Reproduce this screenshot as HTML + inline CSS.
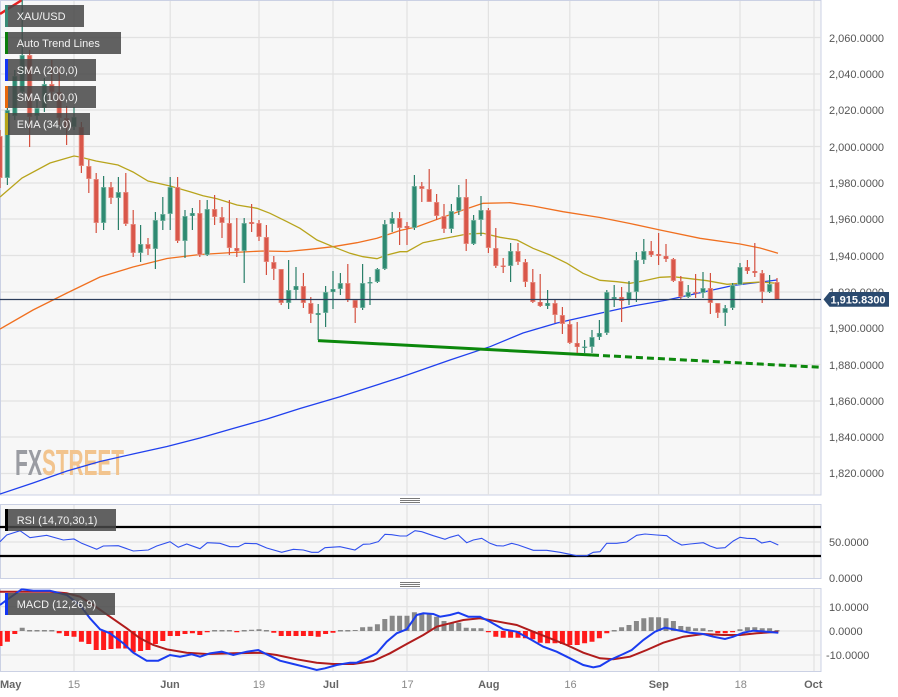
<!DOCTYPE html>
<html><head><meta charset="utf-8"><style>
html,body{margin:0;padding:0;background:#fff;}
svg{display:block;}
text{font-family:"Liberation Sans",Arial,sans-serif;}
</style></head><body>
<svg width="898" height="697" viewBox="0 0 898 697" xmlns="http://www.w3.org/2000/svg">
<defs>
<clipPath id="cm"><rect x="0" y="0" width="821" height="495"/></clipPath>
<clipPath id="cr"><rect x="0" y="504.5" width="821" height="74"/></clipPath>
<clipPath id="cd"><rect x="0" y="588.5" width="821" height="83"/></clipPath>
</defs>
<!-- panels -->
<rect x="0.5" y="0.5" width="820.5" height="494.5" fill="#f7f7f7" stroke="#cbd1e4"/>
<rect x="0.5" y="504.5" width="820.5" height="74" fill="#f7f7f7" stroke="#cbd1e4"/>
<rect x="0.5" y="588.5" width="820.5" height="83" fill="#f7f7f7" stroke="#cbd1e4"/>
<!-- grid -->
<g stroke="#e2e2e2" stroke-width="1.2" fill="none">
<path d="M74 1V495M170.2 1V495M259 1V495M333 1V495M407 1V495M488.4 1V495M569.8 1V495M658.6 1V495M740 1V495M814 1V495"/>
<path d="M74 505V578M170.2 505V578M259 505V578M333 505V578M407 505V578M488.4 505V578M569.8 505V578M658.6 505V578M740 505V578M814 505V578"/>
<path d="M74 589V671M170.2 589V671M259 589V671M333 589V671M407 589V671M488.4 589V671M569.8 589V671M658.6 589V671M740 589V671M814 589V671"/>
<path d="M1 37.5H821M1 74H821M1 110H821M1 146.5H821M1 183H821M1 219H821M1 255.5H821M1 292H821M1 328H821M1 364.5H821M1 401H821M1 437H821M1 473.5H821"/>
<path d="M1 542H821"/>
<path d="M1 606.7H821M1 631H821M1 655H821"/>
</g>
<!-- handles -->
<g stroke="#7a7a7a" stroke-width="1">
<path d="M400 498.5H420M400 500.5H420M400 502.5H420"/>
<path d="M400 582.5H420M400 584.5H420M400 586.5H420"/>
</g>
<!-- watermark -->
<text x="15" y="475" font-size="36" font-weight="bold" fill="#9a9ca2" textLength="27" lengthAdjust="spacingAndGlyphs">FX</text>
<text x="42" y="475" font-size="36" font-weight="bold" fill="#f2c48e" textLength="82" lengthAdjust="spacingAndGlyphs">STREET</text>
<g clip-path="url(#cm)">
<!-- SMA200 -->
<polyline fill="none" stroke="#2040ee" stroke-width="1.3" points="0,494 33,483 67,471 100,461.5 133,454 167,446.5 200,438 233,428.5 267,419 300,408.5 340,396.7 400,377.5 450,360 490,346.7 523,333 557,323 600,313.3 633,306 667,300 700,292.7 733,285.5 777,280"/>
<!-- SMA100 -->
<polyline fill="none" stroke="#f07020" stroke-width="1.3" points="0,329 33,310 67,293 100,277 133,267 167,258.5 200,254.5 233,252.5 263,251 287,251.5 310,249.3 333,246.7 357,242.7 377,238.3 400,230.5 417,226.7 440,218.3 463,210 483,203.3 510,202.7 533,206 563,211.7 600,217.5 630,223.5 660,230 700,238.3 740,244 760,248 778,253.3"/>
<!-- EMA34 -->
<polyline fill="none" stroke="#b8a41c" stroke-width="1.3" points="0,197 22,178 50,163 74,156 80,157 96,161 118,165 133,172 148,181 170,186 190,191.7 203,195.7 217,198.7 237,205 257,208.3 270,213.3 287,221.7 300,228.3 317,240 333,246.7 350,253.3 363,256.7 377,258.7 387,255 400,251.7 407,251.7 423,242.7 440,239.3 457,236 467,234 483,233.3 500,237.3 517,240 533,248.3 550,255 567,263.3 583,273.3 600,280.3 617,281.7 630,283.3 643,281 660,277.3 673,276.7 687,278.3 707,280.7 727,284.3 740,283.3 760,282 777,283.3"/>
<!-- trend lines -->
<path d="M318 340.6L592 355" stroke="#0c880c" stroke-width="3" fill="none"/>
<path d="M592 355L821 367.3" stroke="#0c880c" stroke-width="3" fill="none" stroke-dasharray="7,4"/>
<path d="M0 14L22 0" stroke="#e82222" stroke-width="2.5" fill="none"/>
<!-- candles: wicks -->
<path stroke="#d4503f" stroke-width="1.2" fill="none" d="M0 130V188M29.6 50V147M51.8 60V100M59.2 67V125M66.6 106V145M81.4 122V173M88.8 160V193M96.2 173V233M111 182V204M125.8 173V226M133.2 210V257M148 238V255M177.6 177V243M199.8 200V257M214.6 195V225M222 207V238M229.4 200V255M236.8 218V257M251.6 204V232M259 220V241M266.4 225V275M273.8 256V280M281.2 269V305M303.4 273V308M310.8 297V323M347.8 264V302M355.2 299V323M399.6 212V245M407 222V245M421.8 182V202M429.2 169V202M436.6 194V220M444 204V233M466.2 179V251M488.4 208V253M495.8 228V268M503.2 258V273M518 243V265M525.4 259V287M532.8 269V303M540.2 274V307M555 300V323M562.4 307V334M569.8 320V344M577.2 322V353M621.6 287V322M651.2 241V257M658.6 233V265M666 244V262M673.4 258V282M680.8 276V300M695.6 274V298M710.4 273V314M717.8 303V318M747.4 260V274M754.8 243V277M762.2 270V303M777 278V300"/>
<path stroke="#2a7f69" stroke-width="1.2" fill="none" d="M7.4 107V185M14.8 70V120M22.2 0V95M37 100V120M44.4 78V112M74 107V130M103.6 176V230M118.4 177V230M140.6 225V262M155.4 212V269M162.8 197V230M170.2 177V230M185 210V258M192.4 208V230M207.2 200V256M244.2 218V283M288.6 260V309M296 267V300M318.2 304V340M325.6 286V327M333 271V309M340.4 273V295M362.6 264V310M370 277V305M377.4 268V283M384.8 220V270M392.2 212V232M414.4 175V230M451.4 204V233M458.8 185V215M473.6 215V245M481 196V236M510.6 243V282M547.6 290V309M584.6 340V353M592 330V353M599.4 320V340M606.8 290V335M614.2 285V307M629 281V305M636.4 252V302M643.8 239V264M688.2 285V298M703 272V298M725.2 305V326M732.6 283V310M740 263V285M769.6 275V293"/>
<!-- candles: bodies -->
<g fill="none">
<path stroke="#eda398" stroke-width="5.4" d="M0 136V178M29.6 55V117M51.8 84V92M59.2 92V118M66.6 118V128M81.4 127V166M88.8 166V179M96.2 179V223M111 187V198M125.8 192V224M133.2 224V253M148 244V249M177.6 187V241M199.8 213V255M214.6 209V217M222 217V223M229.4 223V248M236.8 248V251M251.6 222V224M259 223V237M266.4 237V262M273.8 262V269M281.2 269V303M303.4 286V303M310.8 303V314M347.8 283V300M355.2 300V308M399.6 218V228M407 226V228M421.8 186V189M429.2 189V202M436.6 202V216M444 216V229M466.2 197V244M488.4 210V248M495.8 248V266M503.2 265.5V267M518 251V262M525.4 262V282M532.8 282V302M540.2 302V306M555 303V315M562.4 315V324M569.8 324V343M577.2 343V347M621.6 297V301M651.2 251V255M658.6 254V256M666 256V259M673.4 259V281M680.8 281V297M695.6 292V293.5M710.4 288V303M717.8 303V313M747.4 267V271M754.8 271V273M762.2 273V292M777 282V299.4"/>
<path stroke="#d9574a" stroke-width="3.8" d="M0 136.5V177.5M29.6 55.5V116.5M51.8 84.5V91.5M59.2 92.5V117.5M66.6 118.5V127.5M81.4 127.5V165.5M88.8 166.5V178.5M96.2 179.5V222.5M111 187.5V197.5M125.8 192.5V223.5M133.2 224.5V252.5M148 244.5V248.5M177.6 187.5V240.5M199.8 213.5V254.5M214.6 209.5V216.5M222 217.5V222.5M229.4 223.5V247.5M236.8 248.2V250.8M251.6 222.2V223.8M259 223.5V236.5M266.4 237.5V261.5M273.8 262.5V268.5M281.2 269.5V302.5M303.4 286.5V302.5M310.8 303.5V313.5M347.8 283.5V299.5M355.2 300.5V307.5M399.6 218.5V227.5M407 226.2V227.8M421.8 186.5V188.5M429.2 189.5V201.5M436.6 202.5V215.5M444 216.5V228.5M466.2 197.5V243.5M488.4 210.5V247.5M495.8 248.5V265.5M503.2 265.7V266.8M518 251.5V261.5M525.4 262.5V281.5M532.8 282.5V301.5M540.2 302.3V305.7M555 303.5V314.5M562.4 315.5V323.5M569.8 324.5V342.5M577.2 343.3V346.7M621.6 297.3V300.7M651.2 251.3V254.7M658.6 254.2V255.8M666 256.2V258.8M673.4 259.5V280.5M680.8 281.5V296.5M695.6 292.2V293.3M710.4 288.5V302.5M717.8 303.5V312.5M747.4 267.3V270.7M754.8 271.2V272.8M762.2 273.5V291.5M777 282.5V299"/>
<path stroke="#94c6b6" stroke-width="5.4" d="M7.4 110V178M14.8 76V116M22.2 55V92M37 108V116M44.4 84V108M74 117V127M103.6 187V223M118.4 192V198M140.6 244V253M155.4 220V249M162.8 214V221M170.2 187V214M185 216V241M192.4 213V216M207.2 209V255M244.2 223V251M288.6 290V303M296 286V290M318.2 313V315M325.6 292V313M333 289V292M340.4 283V289M362.6 283V308M370 282V283.5M377.4 269V282M384.8 224V269M392.2 218V224M414.4 186V228M451.4 211V229M458.8 197V211M473.6 220V244M481 210V220M510.6 251V266M547.6 303V306M584.6 346.5V348M592 337V347M599.4 333V337M606.8 292V333M614.2 297V299M629 292V300M636.4 260V292M643.8 251V260M688.2 292V297M703 288V293M725.2 308V313M732.6 285V308M740 267V285M769.6 284V292"/>
<path stroke="#2e8a72" stroke-width="3.8" d="M7.4 110.5V177.5M14.8 76.5V115.5M22.2 55.5V91.5M37 108.5V115.5M44.4 84.5V107.5M74 117.5V126.5M103.6 187.5V222.5M118.4 192.5V197.5M140.6 244.5V252.5M155.4 220.5V248.5M162.8 214.5V220.5M170.2 187.5V213.5M185 216.5V240.5M192.4 213.3V215.7M207.2 209.5V254.5M244.2 223.5V250.5M288.6 290.5V302.5M296 286.3V289.7M318.2 313.2V314.8M325.6 292.5V312.5M333 289.3V291.7M340.4 283.5V288.5M362.6 283.5V307.5M370 282.2V283.3M377.4 269.5V281.5M384.8 224.5V268.5M392.2 218.5V223.5M414.4 186.5V227.5M451.4 211.5V228.5M458.8 197.5V210.5M473.6 220.5V243.5M481 210.5V219.5M510.6 251.5V265.5M547.6 303.3V305.7M584.6 346.7V347.8M592 337.5V346.5M599.4 333.3V336.7M606.8 292.5V332.5M614.2 297.2V298.8M629 292.5V299.5M636.4 260.5V291.5M643.8 251.5V259.5M688.2 292.5V296.5M703 288.5V292.5M725.2 308.5V312.5M732.6 285.5V307.5M740 267.5V284.5M769.6 284.5V291.5"/>
</g>
<!-- price line -->
<path d="M0 299.5H821" stroke="#2c3d5b" stroke-width="1.2"/>
</g>
<!-- RSI -->
<g clip-path="url(#cr)">
<path d="M0 527H821M0 556H821" stroke="#000" stroke-width="2.2"/>
<polyline fill="none" stroke="#3050ee" stroke-width="1.1" points="0,541.7 6.7,535 20,530.7 30,537.7 46.7,535.3 63.3,540 74,539 81.7,543.3 96.7,549.3 103.3,546 118.3,545.7 133.3,551 148.3,550 156.7,546 170,541.7 178.3,547.3 186.7,544 200,548.7 207.3,542.7 220,543.3 230,546.7 238.3,546.7 245,543.3 256.7,543.7 266.7,548 281.7,552.3 293.3,549.3 303.3,550 311.7,552.3 318.3,552.3 325,547.7 340,546.7 355,550 363.3,544.3 370,544 378.3,541.7 385,534.3 391.7,534.7 400,536 406.7,536 415,530.7 421.7,531.7 433.3,535.7 445,539.3 450,537.3 458.3,535 466.7,542.7 473.3,540 481.7,538.3 490,543.3 496.7,545.7 503.3,546 511.7,543.3 518.3,545 533.3,550.3 546.7,550.3 560,552.3 570,554.3 576.7,555.7 586.7,555.7 593.3,552.3 600,551.7 606.7,543.3 616.7,543.3 626.7,542 636.7,535.3 645,534 656.7,535 666.7,535.7 673.3,540.7 681.7,545 690,544 703.3,542.7 710,546 716.7,548.3 725,547.7 733.3,541 740,537.3 746.7,538.3 755,538.7 761.7,543 770,541.3 778.3,545"/>
</g>
<!-- MACD -->
<g clip-path="url(#cd)">
<path fill="none" stroke="#ff1a1a" stroke-width="5" d="M0 631V646M7.4 631V641.7M14.8 631V634M59.2 631V633.3M66.6 631V636M74 631V636.7M81.4 631V641.7M88.8 631V644M96.2 631V650M103.6 631V650M111 631V649M118.4 631V648.5M125.8 631V648.5M133.2 631V652.3M140.6 631V651M148 631V650M155.4 631V644M162.8 631V641M170.2 631V636M177.6 631V636M185 631V634M192.4 631V633.3M199.8 631V635M207.2 631V632.2M236.8 631V632.2M273.8 631V632.7M281.2 631V636M288.6 631V636M296 631V636M303.4 631V636M310.8 631V636M318.2 631V636.7M325.6 631V634M333 631V632.7M488.4 631V632.2M495.8 631V636.7M503.2 631V637.7M510.6 631V637.7M518 631V637.7M525.4 631V638.3M532.8 631V639.3M540.2 631V642.7M547.6 631V643.3M555 631V643.3M562.4 631V644M569.8 631V645M577.2 631V645M584.6 631V643.3M592 631V641.7M599.4 631V638.3M606.8 631V633.3M717.8 631V633.3M725.2 631V633.3M732.6 631V632.2"/>
<path fill="none" stroke="#888" stroke-width="5" d="M22.2 631V627.7M29.6 631.5V630M37 631.5V630M44.4 631.5V630M51.8 631.5V630M214.6 631.5V630M222 631.5V630M229.4 631.5V630M244.2 631.5V630M251.6 631V629.7M259 631V629.3M266.4 631.5V630M340.4 631.5V630M347.8 631.5V630M355.2 631V630M362.6 631V627.3M370 631V626.7M377.4 631V624.3M384.8 631V619M392.2 631V615.7M399.6 631V615.7M407 631V615.7M414.4 631V612.3M421.8 631V613.3M429.2 631V614M436.6 631V616.7M444 631V621M451.4 631V622.7M458.8 631V622.7M466.2 631V627.7M473.6 631V628.3M481 631V628.3M614.2 631.5V630M621.6 631V627.3M629 631V625M636.4 631V621M643.8 631V618.3M651.2 631V617.3M658.6 631V617.3M666 631V618.3M673.4 631V621M680.8 631V626M688.2 631V626.7M695.6 631V628.3M703 631V628.3M710.4 631.5V630M740 631V629.3M747.4 631V627.3M754.8 631V627.3M762.2 631V628.3M769.6 631V628.3M777 631.5V630"/>
<polyline fill="none" stroke="#b01c1c" stroke-width="2" points="0,591.7 16.7,591.7 50,591.7 66.7,593.3 80,596.7 93.3,605 110,616.7 126.7,628.3 140,638.3 153.3,645 166.7,649.3 186.7,652.7 206.7,654 233.3,653.3 260,652.7 276.7,655 296.7,659.3 316.7,662.7 333.3,664 353.3,664 373.3,661 390,653.3 406.7,644 423.3,635 436.7,626.7 450,623.3 463.3,620 480,618.3 493.3,620.7 516.7,625 533.3,631.7 550,638.3 566.7,645 583.3,652.7 600,658.3 613.3,659.3 630,656.7 646.7,650 663.3,642.7 683.3,636.7 703.3,634 723.3,635 740,635 756.7,633.3 778.3,631.7"/>
<polyline fill="none" stroke="#1a3cf0" stroke-width="2" points="0,605 6.7,600 21.7,589.3 33.3,590.7 50,590.7 66.7,595 80,605 90,618.3 100,629.3 110,633.3 123.3,643.3 133.3,652.7 146.7,660.7 158.3,660.7 170,655 180,656.7 191.7,654.3 200,656.7 210,653.3 221.7,651.7 233.3,655 246.7,651.7 258.3,650 266.7,654.3 280,660.7 293.3,664 306.7,667.3 316.7,670 325,668.3 336.7,665 350,662.7 356.7,662.7 366.7,658.3 376.7,653.3 386.7,641.7 396.7,633.3 406.7,629.3 416.7,615 423.3,613.3 433.3,614 440,616.7 450,615 458.3,612.7 468.3,616.7 480,616.7 490,621.7 503.3,629.3 516.7,631.7 531.7,640 543.3,646.7 556.7,651.7 570,658.3 583.3,665 593.3,667.3 600,666 610,660 623.3,654 631.7,650 643.3,640 655,631.7 665,627.7 676.7,630 690,632.7 703.3,634 713.3,636.7 725,639 733.3,636.7 743.3,632.7 753.3,630.7 766.7,631.7 778.3,632.7"/>
</g>
<!-- legends -->
<g font-size="11" fill="#f2f2f2">
<rect x="5" y="5" width="79" height="22" fill="rgba(70,70,70,0.85)"/><rect x="5" y="5" width="3" height="22" fill="#3a8b76"/>
<text x="16.7" y="20">XAU/USD</text>
<rect x="5" y="32" width="116" height="22" fill="rgba(70,70,70,0.85)"/><rect x="5" y="32" width="3" height="22" fill="#0a7d0a"/>
<text x="16.7" y="47">Auto Trend Lines</text>
<rect x="5" y="59" width="91" height="22" fill="rgba(70,70,70,0.85)"/><rect x="5" y="59" width="3" height="22" fill="#1235f5"/>
<text x="16.7" y="74">SMA (200,0)</text>
<rect x="5" y="86" width="91" height="22" fill="rgba(70,70,70,0.85)"/><rect x="5" y="86" width="3" height="22" fill="#e8680a"/>
<text x="16.7" y="101">SMA (100,0)</text>
<rect x="5" y="113" width="85" height="22" fill="rgba(70,70,70,0.85)"/><rect x="5" y="113" width="3" height="22" fill="#b5a51a"/>
<text x="16.7" y="128">EMA (34,0)</text>
<rect x="5" y="509" width="111" height="22" fill="rgba(70,70,70,0.85)"/><rect x="5" y="509" width="3" height="22" fill="#000"/>
<text x="16.7" y="524">RSI (14,70,30,1)</text>
<rect x="5" y="593" width="110" height="22" fill="rgba(70,70,70,0.85)"/><rect x="5" y="593" width="3" height="22" fill="#1235f5"/>
<text x="16.7" y="608">MACD (12,26,9)</text>
</g>
<!-- right axis -->
<g font-size="11" fill="#555">
<text x="829" y="42">2,060.0000</text>
<text x="829" y="78">2,040.0000</text>
<text x="829" y="114">2,020.0000</text>
<text x="829" y="151">2,000.0000</text>
<text x="829" y="187">1,980.0000</text>
<text x="829" y="223">1,960.0000</text>
<text x="829" y="260">1,940.0000</text>
<text x="829" y="296">1,920.0000</text>
<text x="829" y="332">1,900.0000</text>
<text x="829" y="369">1,880.0000</text>
<text x="829" y="405">1,860.0000</text>
<text x="829" y="441">1,840.0000</text>
<text x="829" y="477">1,820.0000</text>
<text x="829" y="546">50.0000</text>
<text x="829" y="582">0.0000</text>
<text x="829" y="611">10.0000</text>
<text x="829" y="635">0.0000</text>
<text x="826" y="659">-10.0000</text>
</g>
<!-- price tag -->
<polygon points="823.5,299.4 829.5,292 889,292 889,306.8 829.5,306.8" fill="#2b4a6f"/>
<text x="830.5" y="303.6" font-size="11" font-weight="bold" fill="#fff">1,915.8300</text>
<!-- x axis -->
<g font-size="11">
<text x="0" y="688" font-weight="bold" fill="#666">May</text>
<text x="74" y="688" text-anchor="middle" fill="#888">15</text>
<text x="170" y="688" text-anchor="middle" font-weight="bold" fill="#666">Jun</text>
<text x="259" y="688" text-anchor="middle" fill="#888">19</text>
<text x="331" y="688" text-anchor="middle" font-weight="bold" fill="#666">Jul</text>
<text x="407.5" y="688" text-anchor="middle" fill="#888">17</text>
<text x="488.8" y="688" text-anchor="middle" font-weight="bold" fill="#666">Aug</text>
<text x="570.5" y="688" text-anchor="middle" fill="#888">16</text>
<text x="658.8" y="688" text-anchor="middle" font-weight="bold" fill="#666">Sep</text>
<text x="740.8" y="688" text-anchor="middle" fill="#888">18</text>
<text x="813.3" y="688" text-anchor="middle" font-weight="bold" fill="#666">Oct</text>
</g>
</svg>
</body></html>
